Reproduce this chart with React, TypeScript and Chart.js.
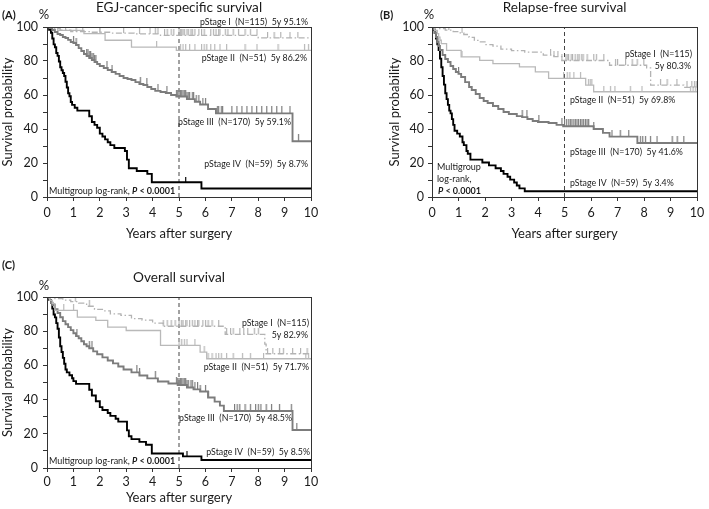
import { useEffect, useRef } from "react";
import { Chart, registerables } from "chart.js";
Chart.register(...registerables);

const FONT = "Lato, 'DejaVu Sans', sans-serif";

// ---------- tick labels ----------
const X_TICK_LABELS = ["0", "1", "2", "3", "4", "5", "6", "7", "8", "9", "10"];
const Y_TICK_LABELS = ["0", "20", "40", "60", "80", "100"];

// ---------- (A) EGJ-cancer-specific survival ----------
const A_I_T = [0.2, 0.5, 0.9, 1.6, 2.4, 3.3, 4.3, 8.0];
const A_I_S = [99.1, 98.2, 97.3, 96.9, 96.4, 95.9, 95.1, 93.6];
const A_I_C = [0.7, 1.1, 1.35, 2.0, 2.9, 3.5, 3.9, 4.1, 4.2, 4.45, 4.55, 4.7, 4.8, 5.0, 5.05, 5.1, 5.15, 5.2, 5.3, 5.35, 5.45, 5.5, 5.6, 5.75, 5.85, 5.95, 6.2, 6.3, 6.4, 6.5, 6.55, 6.75, 6.85, 7.05, 7.25, 7.5, 7.7, 7.95, 8.35, 8.6, 8.85, 9.2, 9.5];
const A_II_T = [0.4, 1.4, 2.2, 3.2, 4.9];
const A_II_S = [98.0, 96.1, 92.2, 88.2, 86.3];
const A_II_C = [2.0, 4.15, 5.05, 5.15, 5.25, 5.4, 5.6, 5.85, 5.95, 6.05, 6.2, 6.35, 6.55, 6.8, 7.5, 7.95, 8.75, 9.75, 9.9];
const A_III_T = [0.1, 0.2, 0.3, 0.4, 0.5, 0.6, 0.7, 0.8, 0.9, 1.0, 1.1, 1.2, 1.3, 1.4, 1.5, 1.6, 1.7, 1.8, 1.9, 2.0, 2.15, 2.3, 2.45, 2.6, 2.75, 2.9, 3.05, 3.2, 3.35, 3.5, 3.65, 3.8, 3.95, 4.1, 4.3, 4.5, 4.7, 4.9, 5.3, 5.6, 5.8, 6.1, 6.4, 9.3];
const A_III_S = [99.4, 98.2, 97.1, 95.9, 95.3, 94.1, 93.5, 92.4, 91.2, 90.6, 89.4, 87.6, 85.9, 84.1, 82.9, 81.8, 80.6, 79.4, 78.2, 77.1, 75.9, 74.7, 73.5, 72.4, 71.2, 70.0, 69.4, 68.8, 67.6, 66.5, 65.9, 64.7, 63.5, 62.4, 61.8, 61.2, 60.0, 59.1, 57.6, 56.0, 54.4, 51.8, 49.2, 32.8];
const A_III_C = [1.0, 1.1, 1.5, 1.55, 1.6, 1.65, 1.7, 1.75, 1.8, 1.85, 2.27, 2.46, 3.53, 3.78, 4.2, 4.54, 4.9, 4.95, 5.0, 5.05, 5.1, 5.15, 5.2, 5.25, 5.3, 5.35, 5.4, 5.5, 5.55, 5.65, 5.75, 5.9, 6.0, 6.45, 6.5, 6.6, 6.65, 7.0, 7.19, 7.38, 7.57, 7.76, 7.94, 8.13, 8.32, 8.51, 8.7, 8.89, 9.2, 9.52];
const A_IV_T = [0.08, 0.15, 0.2, 0.25, 0.3, 0.35, 0.4, 0.45, 0.5, 0.55, 0.6, 0.65, 0.7, 0.75, 0.8, 0.85, 0.9, 0.95, 1.05, 1.15, 1.6, 1.7, 1.8, 1.9, 2.0, 2.1, 2.2, 2.3, 2.4, 2.55, 2.95, 3.03, 3.1, 3.4, 3.8, 3.97, 5.85];
const A_IV_S = [98.3, 96.6, 93.2, 89.8, 88.1, 84.7, 83.0, 79.7, 76.3, 74.6, 72.9, 71.2, 67.8, 64.4, 61.0, 59.3, 55.9, 54.2, 52.5, 50.8, 47.5, 44.1, 42.4, 40.7, 37.3, 35.6, 33.9, 32.2, 30.5, 28.8, 27.1, 22.0, 16.9, 15.3, 13.6, 8.7, 5.0];
const A_IV_C = [5.25];

// ---------- (B) Relapse-free survival ----------
const B_I_T = [0.2, 0.5, 0.8, 1.0, 1.2, 1.4, 1.6, 1.8, 2.0, 2.3, 2.6, 3.0, 3.5, 4.2, 4.6, 4.9, 6.7, 8.1, 8.25, 9.5];
const B_I_S = [99.1, 98.2, 97.3, 96.5, 95.6, 93.9, 92.1, 91.3, 89.6, 88.7, 87.0, 86.1, 85.2, 83.5, 82.6, 80.3, 77.5, 76.0, 65.8, 64.5];
const B_I_C = [0.63, 1.13, 4.47, 4.6, 4.75, 4.9, 5.05, 5.1, 5.15, 5.25, 5.3, 5.4, 5.5, 5.55, 5.65, 5.7, 5.85, 6.1, 6.2, 6.48, 6.92, 7.0, 7.3, 7.55, 7.74, 7.99, 8.62, 8.87, 9.24, 9.62, 9.8, 9.9, 9.97];
const B_II_T = [0.1, 0.2, 0.25, 0.3, 0.35, 0.55, 1.1, 1.8, 2.3, 3.3, 3.9, 4.4, 5.8, 6.1];
const B_II_S = [98.0, 96.1, 94.1, 92.2, 90.2, 86.3, 82.4, 80.4, 78.4, 76.5, 73.6, 69.8, 65.8, 61.9];
const B_II_C = [1.13, 4.96, 5.1, 5.2, 5.35, 5.6, 5.9, 5.97, 6.03, 6.48, 6.73, 6.9, 7.48, 7.92, 9.75, 9.85, 9.95];
const B_III_T = [0.05, 0.1, 0.15, 0.2, 0.25, 0.3, 0.4, 0.5, 0.6, 0.7, 0.8, 0.9, 1.0, 1.1, 1.25, 1.4, 1.5, 1.65, 1.8, 1.95, 2.1, 2.3, 2.5, 2.7, 2.9, 3.2, 3.4, 3.6, 3.8, 4.0, 4.4, 4.7, 4.95, 6.1, 6.45, 6.7, 7.75];
const B_III_S = [98.8, 96.5, 94.1, 91.2, 88.8, 86.5, 83.5, 81.2, 79.4, 77.1, 75.3, 73.5, 72.4, 70.6, 67.6, 64.7, 62.9, 60.6, 58.2, 56.5, 55.3, 53.5, 51.8, 50.0, 48.8, 47.6, 47.0, 45.9, 44.7, 44.1, 43.5, 42.4, 41.6, 40.0, 37.7, 35.5, 31.8];
const B_III_C = [1.0, 3.4, 3.58, 4.03, 4.9, 5.0, 5.08, 5.16, 5.22, 5.28, 5.35, 5.41, 5.47, 5.53, 5.6, 5.66, 5.72, 5.79, 5.85, 5.91, 6.1, 6.79, 7.1, 7.42, 7.86, 7.95, 8.05, 8.24, 8.49, 9.06, 9.25, 9.5];
const B_IV_T = [0.05, 0.1, 0.15, 0.2, 0.25, 0.3, 0.35, 0.4, 0.45, 0.5, 0.55, 0.6, 0.65, 0.7, 0.75, 0.8, 0.85, 0.95, 1.05, 1.15, 1.2, 1.3, 1.35, 1.45, 1.9, 2.15, 2.4, 2.6, 2.7, 2.85, 2.95, 3.1, 3.2, 3.3, 3.5];
const B_IV_S = [98.3, 96.6, 93.2, 89.8, 86.4, 81.4, 76.3, 71.2, 66.1, 61.0, 57.6, 54.2, 50.8, 49.2, 45.8, 42.4, 39.0, 37.3, 35.6, 32.2, 30.5, 27.1, 25.4, 22.0, 20.3, 18.6, 16.9, 15.3, 13.6, 11.9, 10.2, 8.5, 6.8, 5.1, 3.4];
const B_IV_C: number[] = [];

// ---------- (C) Overall survival ----------
const C_I_T = [0.3, 0.6, 0.9, 1.2, 1.5, 1.8, 2.1, 2.4, 2.8, 3.2, 3.6, 4.0, 4.4, 6.75, 8.25, 8.3];
const C_I_S = [99.1, 98.2, 97.3, 96.4, 94.6, 92.8, 91.9, 90.1, 89.2, 87.4, 86.5, 84.7, 82.9, 78.2, 72.5, 66.8];
const C_I_C = [1.07, 1.6, 4.4, 4.55, 4.7, 4.85, 5.0, 5.1, 5.15, 5.25, 5.3, 5.4, 5.5, 5.6, 5.7, 5.75, 5.9, 6.0, 6.1, 6.25, 6.5, 6.8, 6.95, 7.05, 7.3, 7.45, 7.6, 7.85, 8.0, 8.35, 8.55, 8.8, 8.95, 9.3, 9.6, 9.85];
const C_II_T = [0.1, 0.2, 0.3, 1.15, 1.85, 2.3, 3.0, 4.3, 5.8, 6.05];
const C_II_S = [98.0, 96.1, 92.2, 88.2, 86.3, 82.4, 80.4, 71.7, 67.8, 63.9];
const C_II_C = [0.63, 1.0, 5.0, 5.1, 5.2, 5.3, 5.6, 5.95, 6.1, 6.25, 6.4, 6.5, 6.6, 6.8, 7.05, 7.4, 7.7, 8.2, 9.8, 9.9];
const C_III_T = [0.05, 0.1, 0.15, 0.2, 0.3, 0.4, 0.5, 0.6, 0.7, 0.8, 0.9, 1.0, 1.1, 1.2, 1.3, 1.4, 1.5, 1.6, 1.75, 1.9, 2.1, 2.3, 2.5, 2.7, 2.9, 3.2, 3.5, 3.8, 4.2, 4.6, 4.95, 5.3, 5.55, 5.8, 6.1, 6.35, 6.55, 6.7, 9.3];
const C_III_S = [99.4, 98.2, 96.5, 95.3, 92.9, 90.6, 88.2, 85.9, 84.1, 82.4, 80.6, 78.8, 77.1, 75.9, 74.1, 72.4, 71.2, 70.0, 68.2, 66.5, 64.7, 62.9, 61.2, 59.4, 57.6, 55.9, 54.1, 52.4, 50.6, 49.4, 48.5, 47.1, 46.0, 44.7, 41.2, 38.8, 36.5, 33.3, 22.2];
const C_III_C = [1.13, 1.6, 1.7, 3.4, 3.5, 4.1, 4.9, 4.95, 5.0, 5.05, 5.1, 5.15, 5.2, 5.25, 5.3, 5.35, 5.45, 5.5, 5.6, 5.7, 5.8, 6.0, 6.1, 7.1, 7.2, 7.3, 7.5, 7.7, 7.9, 8.0, 8.1, 8.3, 8.5, 8.8, 9.25, 9.46];
const C_IV_T = [0.08, 0.15, 0.2, 0.25, 0.3, 0.35, 0.4, 0.45, 0.5, 0.55, 0.6, 0.65, 0.7, 0.75, 0.85, 0.95, 1.0, 1.1, 1.6, 1.7, 1.85, 2.0, 2.1, 2.3, 2.4, 2.6, 2.7, 3.03, 3.1, 3.2, 3.5, 3.75, 3.97, 5.15, 5.85];
const C_IV_S = [98.3, 96.6, 93.2, 89.8, 88.1, 84.7, 81.4, 76.3, 71.2, 67.8, 64.4, 61.0, 57.6, 55.9, 54.2, 52.5, 50.8, 49.2, 45.8, 42.4, 39.0, 35.6, 33.9, 32.2, 30.5, 28.8, 27.1, 22.0, 18.6, 16.9, 15.3, 13.6, 8.5, 6.8, 4.7];
const C_IV_C = [5.3];

// ---------- styles ----------
const SERIES_STYLE = [
  { color: "#b3b3b3", width: 1.3, dash: [6, 2.5, 1.5, 2.5], tick: 6 },
  { color: "#b9b9b9", width: 1.3, dash: [] as number[], tick: 6 },
  { color: "#7c7c7c", width: 1.9, dash: [] as number[], tick: 7 },
  { color: "#000000", width: 1.9, dash: [] as number[], tick: 5 },
];

type Seg = { t: string; bold?: boolean; italic?: boolean };
type Lbl = { segs: Seg[]; x: number; y: number; align: "left" | "right" | "center"; size: number; sx: number };

function km(T: number[], S: number[]) {
  const pts = [{ x: 0, y: 100 }];
  T.forEach((t, i) => pts.push({ x: t, y: S[i] }));
  pts.push({ x: 10, y: S[S.length - 1] });
  return pts;
}
function survAt(T: number[], S: number[], t: number) {
  let v = 100;
  for (let i = 0; i < T.length; i++) if (T[i] <= t) v = S[i];
  return v;
}
function tickImage(color: string, h: number) {
  const c = document.createElement("canvas");
  c.width = 3;
  c.height = h * 2;
  const g = c.getContext("2d")!;
  g.fillStyle = color;
  g.fillRect(1, 0, 1.2, h);
  return c;
}

const annotPlugin = {
  id: "annot",
  afterDraw(chart: any, _a: any, opts: any) {
    const { ctx, chartArea: a } = chart;
    ctx.save();
    ctx.strokeStyle = "#333";
    ctx.lineWidth = 1;
    ctx.strokeRect(Math.round(a.left) + 0.5, Math.round(a.top) + 0.5, Math.round(a.right - a.left), Math.round(a.bottom - a.top));
    ctx.fillStyle = "#1a1a1a";
    ctx.textBaseline = "middle";
    ctx.textAlign = "left";
    (opts.labels as Lbl[]).forEach((l) => {
      const fontOf = (s: Seg) => `${s.italic ? "italic " : ""}${s.bold ? "bold " : ""}${l.size}px ${FONT}`;
      let raw = 0;
      l.segs.forEach((s) => { ctx.font = fontOf(s); raw += ctx.measureText(s.t).width; });
      const total = raw * l.sx;
      const x0 = l.align === "left" ? l.x : l.align === "right" ? l.x - total : l.x - total / 2;
      ctx.save();
      ctx.translate(x0, l.y);
      ctx.scale(l.sx, 1);
      let x = 0;
      l.segs.forEach((s) => { ctx.font = fontOf(s); ctx.fillText(s.t, x, 0); x += ctx.measureText(s.t).width; });
      ctx.restore();
    });
    ctx.restore();
  },
};

type Curve = { T: number[]; S: number[]; C: number[] };
type PanelCfg = {
  curves: Curve[];
  labels: Lbl[];
  padding: { left: number; top: number; right: number; bottom: number };
  yWidth: number;
  xHeight: number;
  yTickPad: number;
  xTickPad: number;
};

const L = (t: string, x: number, y: number, align: "left" | "right" | "center", size = 10, bold = false, sx = 0.88): Lbl => ({ segs: [{ t, bold }], x, y, align, size, sx });
const LOGRANK: Seg[] = [{ t: "Multigroup log-rank, " }, { t: "P", bold: true, italic: true }, { t: " < 0.0001", bold: true }];

const PANEL_A: PanelCfg = {
  curves: [
    { T: A_I_T, S: A_I_S, C: A_I_C },
    { T: A_II_T, S: A_II_S, C: A_II_C },
    { T: A_III_T, S: A_III_S, C: A_III_C },
    { T: A_IV_T, S: A_IV_S, C: A_IV_C },
  ],
  labels: [
    L("EGJ-cancer-specific survival", 179, 8, "center", 13.6, false, 1),
    L("(A)", 2, 15, "left", 11, true, 1),
    L("%", 44, 15, "center", 13, false, 1),
    L("pStage I  (N=115)  5y 95.1%", 308, 21.5, "right"),
    L("pStage II  (N=51)  5y 86.2%", 307, 58, "right"),
    L("pStage III  (N=170)  5y 59.1%", 291, 122, "right"),
    L("pStage IV  (N=59)  5y 8.7%", 308, 163.5, "right"),
    { segs: LOGRANK, x: 49, y: 191, align: "left", size: 10, sx: 0.9 },
  ],
  padding: { left: 0, top: 27, right: 44, bottom: 8 },
  yWidth: 47,
  xHeight: 45,
  yTickPad: 5,
  xTickPad: 4,
};

const PANEL_B: PanelCfg = {
  curves: [
    { T: B_I_T, S: B_I_S, C: B_I_C },
    { T: B_II_T, S: B_II_S, C: B_II_C },
    { T: B_III_T, S: B_III_S, C: B_III_C },
    { T: B_IV_T, S: B_IV_S, C: B_IV_C },
  ],
  labels: [
    L("Relapse-free survival", 209.5, 8, "center", 13.6, false, 1),
    L("(B)", 25, 15, "left", 11, true, 1),
    L("%", 74, 15, "center", 13, false, 1),
    L("pStage I  (N=115)", 337, 54, "right"),
    L("5y 80.3%", 336, 66, "right"),
    L("pStage II  (N=51)  5y 69.8%", 215, 100, "left"),
    L("pStage III  (N=170)  5y 41.6%", 215, 152, "left"),
    L("pStage IV  (N=59)  5y 3.4%", 215, 183, "left"),
    L("Multigroup", 82, 167, "left", 10, false, 0.9),
    L("log-rank,", 82, 179, "left", 10, false, 0.9),
    { segs: [{ t: "P", bold: true, italic: true }, { t: " < 0.0001", bold: true }], x: 83, y: 191, align: "left", size: 10, sx: 0.9 },
  ],
  padding: { left: 32, top: 27, right: 12, bottom: 8 },
  yWidth: 45,
  xHeight: 45,
  yTickPad: 4,
  xTickPad: 4,
};

const PANEL_C: PanelCfg = {
  curves: [
    { T: C_I_T, S: C_I_S, C: C_I_C },
    { T: C_II_T, S: C_II_S, C: C_II_C },
    { T: C_III_T, S: C_III_S, C: C_III_C },
    { T: C_IV_T, S: C_IV_S, C: C_IV_C },
  ],
  labels: [
    L("Overall survival", 179, 28, "center", 13.6, false, 1),
    L("(C)", 2, 15, "left", 11, true, 1),
    L("%", 44, 36, "center", 13, false, 1),
    L("pStage I  (N=115)", 309, 73, "right"),
    L("5y 82.9%", 308, 85, "right"),
    L("pStage II  (N=51)  5y 71.7%", 309, 117, "right"),
    L("pStage III  (N=170)  5y 48.5%", 292, 168, "right"),
    L("pStage IV  (N=59)  5y 8.5%", 310, 202, "right"),
    { segs: LOGRANK, x: 49, y: 211, align: "left", size: 10, sx: 0.9 },
  ],
  padding: { left: 0, top: 47, right: 44, bottom: 3 },
  yWidth: 47,
  xHeight: 38,
  yTickPad: 5,
  xTickPad: 2.5,
};

function buildConfig(p: PanelCfg): any {
  const datasets: any[] = [];
  p.curves.forEach((c, i) => {
    const st = SERIES_STYLE[i];
    datasets.push({
      data: km(c.T, c.S),
      showLine: true,
      stepped: true,
      borderColor: st.color,
      borderWidth: st.width,
      borderDash: st.dash,
      pointRadius: 0,
      fill: false,
    });
    datasets.push({
      data: c.C.map((t) => ({ x: t, y: survAt(c.T, c.S, t) })),
      showLine: false,
      pointStyle: tickImage(st.color, st.tick),
      pointRadius: 3,
    });
  });
  datasets.push({
    data: [{ x: 5, y: 0 }, { x: 5, y: 100 }],
    showLine: true,
    borderColor: "#444",
    borderWidth: 1,
    borderDash: [4, 3],
    pointRadius: 0,
  });
  const tickFont = { family: FONT, size: 12.5 };
  const titleFont = { family: FONT, size: 13 };
  return {
    type: "scatter",
    data: { datasets },
    options: {
      responsive: false,
      animation: false,
      events: [],
      layout: { padding: p.padding },
      plugins: { legend: { display: false }, tooltip: { enabled: false }, annot: { labels: p.labels } },
      scales: {
        x: {
          type: "linear",
          min: 0,
          max: 10,
          afterFit: (s: any) => { s.height = p.xHeight; },
          ticks: {
            stepSize: 1,
            autoSkip: false,
            maxRotation: 0,
            padding: p.xTickPad,
            color: "#1a1a1a",
            font: tickFont,
            callback: (v: number) => X_TICK_LABELS[Math.round(v)] ?? "",
          },
          grid: { drawOnChartArea: false, drawTicks: true, tickLength: 4, color: "#333" },
          border: { display: true, color: "#333", width: 1 },
          title: { display: true, text: "Years after surgery", color: "#1a1a1a", font: titleFont, padding: 0 },
        },
        y: {
          type: "linear",
          min: 0,
          max: 100,
          afterFit: (s: any) => { s.width = p.yWidth; },
          ticks: {
            stepSize: 10,
            autoSkip: false,
            padding: p.yTickPad,
            color: "#1a1a1a",
            font: tickFont,
            callback: (v: number) => (Y_TICK_LABELS.includes(String(v)) ? String(v) : ""),
          },
          grid: { drawOnChartArea: false, drawTicks: true, tickLength: 4, color: "#333" },
          border: { display: true, color: "#333", width: 1 },
          title: { display: true, text: "Survival probability", color: "#1a1a1a", font: titleFont, padding: 0 },
        },
      },
    },
    plugins: [annotPlugin],
  };
}

function Panel({ cfg, left, top, width, height }: { cfg: PanelCfg; left: number; top: number; width: number; height: number }) {
  const ref = useRef<HTMLCanvasElement>(null);
  useEffect(() => {
    const chart = new Chart(ref.current!, buildConfig(cfg));
    return () => chart.destroy();
  }, [cfg]);
  return <canvas ref={ref} width={width} height={height} style={{ position: "absolute", left, top, width, height, display: "block" }} />;
}

export default function App() {
  return (
    <div style={{ position: "absolute", left: 0, top: 0, width: 709, height: 509, background: "#fff" }}>
      <Panel cfg={PANEL_A} left={0} top={0} width={355} height={250} />
      <Panel cfg={PANEL_B} left={355} top={0} width={354} height={250} />
      <Panel cfg={PANEL_C} left={0} top={250} width={355} height={259} />
    </div>
  );
}
